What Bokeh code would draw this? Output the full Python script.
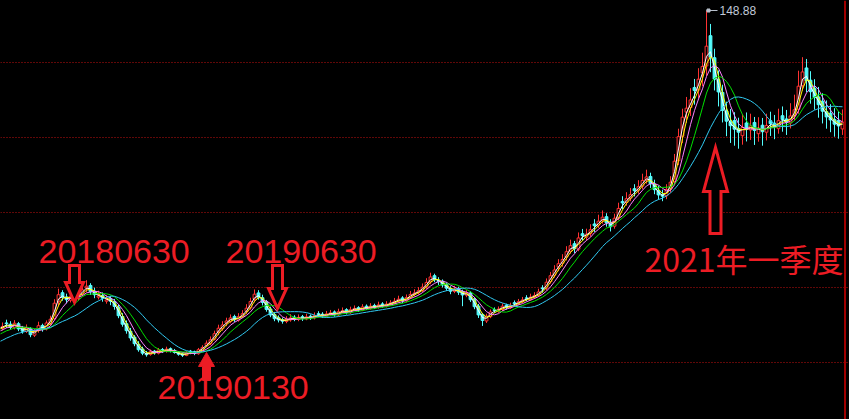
import numpy as np
import pandas as pd
from bokeh.plotting import figure
from bokeh.models import ColumnDataSource, Range1d, FixedTicker, Span
from bokeh.core.properties import value
from bokeh.embed import file_html
from bokeh.resources import INLINE

# ---------------- data ----------------
pre_close = [9.8, 10.5, 11.2, 11.9, 12.8, 13.4, 14.6, 15.3, 16.1, 17.2, 17.9, 18.8, 19.6, 20.4, 21.3, 21.9]

opens = [
    21.8, 23.9, 23.4, 22.0, 23.6, 21.9, 20.5, 21.6, 19.0, 21.2,
    22.9, 21.5, 23.7, 25.6, 32.4, 36.0, 34.3, 33.0, 35.4, 33.7,
    35.5, 37.9, 38.9, 36.6, 34.2, 34.9, 32.6, 33.6, 32.4, 30.2,
    26.5, 23.6, 20.6, 18.2, 15.4, 13.5, 11.6, 11.3, 12.6, 11.8,
    13.3, 12.5, 13.6, 12.9, 12.0, 11.5, 10.9, 12.6, 12.4, 11.6,
    13.0, 14.9, 15.6, 17.4, 20.3, 21.6, 23.9, 24.5, 26.5, 25.0,
    26.6, 28.5, 29.9, 33.4, 35.9, 34.0, 32.3, 29.5, 27.3, 26.0,
    25.2, 24.5, 25.1, 26.2, 25.3, 26.4, 25.5, 26.6, 25.9, 27.6,
    27.4, 26.6, 27.6, 28.3, 27.1, 28.5, 29.2, 28.0, 29.3, 30.0,
    29.0, 30.6, 29.7, 30.9, 30.1, 31.5, 30.6, 31.5, 32.0, 32.7,
    33.9, 32.7, 34.2, 35.4, 36.0, 36.9, 38.3, 40.3, 42.8, 41.0,
    40.6, 39.3, 37.6, 36.5, 37.6, 36.4, 35.0, 35.9, 33.4, 30.6,
    27.3, 24.7, 26.4, 29.2, 28.6, 29.3, 31.0, 30.0, 32.0, 31.7,
    32.5, 33.9, 33.2, 34.3, 35.0, 37.9, 37.8, 40.4, 43.0, 46.3,
    47.8, 50.3, 52.6, 55.6, 53.4, 59.6, 58.2, 59.6, 63.5, 63.0,
    64.8, 66.4, 63.7, 62.6, 66.0, 72.5, 72.1, 73.8, 77.6, 77.0,
    78.6, 81.1, 82.5, 79.4, 77.0, 75.3, 74.8, 77.5, 80.4, 88.8,
    98.6, 108.2, 110.0, 118.1, 117.1, 124.0, 126.7, 138.8, 130.0, 121.2,
    116.1, 108.7, 104.4, 104.9, 101.6, 98.8, 103.9, 101.1, 104.1, 99.6,
    103.0, 100.2, 104.8, 103.8, 101.6, 106.8, 105.5, 103.9, 106.9, 109.4,
    118.8, 125.9, 121.0, 117.8, 114.3, 112.6, 108.4, 107.8, 105.3, 104.9, 101.5,
]
highs = [
    24.1, 25.2, 24.6, 25.0, 24.3, 22.7, 23.3, 22.2, 21.6, 24.4,
    23.6, 24.9, 26.8, 33.4, 37.6, 37.0, 35.6, 36.3, 36.0, 37.0,
    39.2, 41.0, 39.8, 38.0, 36.8, 36.1, 35.0, 34.6, 33.5, 31.2,
    27.8, 24.9, 21.9, 19.0, 16.6, 14.4, 12.7, 13.3, 13.1, 13.9,
    13.9, 14.4, 14.1, 13.5, 12.6, 12.1, 12.6, 13.1, 12.8, 13.9,
    15.0, 16.9, 18.5, 20.8, 23.2, 24.6, 26.0, 27.3, 27.2, 27.8,
    29.0, 31.4, 34.0, 37.3, 37.0, 35.2, 33.1, 30.4, 28.3, 26.9,
    26.0, 26.6, 27.4, 27.0, 27.3, 27.1, 27.6, 27.3, 28.1, 28.6,
    28.2, 28.7, 29.1, 28.9, 29.6, 30.1, 29.8, 30.4, 30.9, 30.6,
    31.4, 31.3, 31.8, 31.6, 32.4, 32.2, 32.6, 33.0, 33.9, 34.8,
    34.6, 35.3, 36.7, 37.4, 38.2, 39.7, 41.8, 44.0, 43.6, 42.2,
    41.3, 40.1, 38.6, 38.8, 38.4, 37.2, 37.0, 36.6, 34.3, 31.5,
    27.9, 27.6, 29.3, 30.1, 30.5, 31.7, 31.6, 32.0, 32.9, 33.5,
    34.3, 35.0, 35.6, 36.2, 37.6, 39.0, 41.7, 44.3, 47.0, 49.4,
    51.4, 54.6, 57.2, 56.7, 60.1, 61.5, 61.6, 63.4, 65.4, 67.2,
    68.9, 67.8, 65.4, 67.6, 72.0, 74.6, 76.2, 77.9, 79.4, 81.0,
    83.6, 85.2, 84.0, 81.2, 78.8, 77.2, 79.4, 82.6, 91.5, 101.6,
    109.6, 114.3, 117.8, 121.5, 125.8, 132.0, 148.88, 143.5, 133.6, 124.9,
    119.2, 112.4, 109.5, 108.2, 106.0, 107.4, 108.1, 107.6, 106.3, 106.2,
    105.9, 107.6, 108.4, 107.1, 109.6, 110.5, 109.1, 111.8, 115.2, 124.8,
    130.2, 129.5, 124.6, 121.4, 118.3, 115.8, 112.9, 111.4, 109.8, 108.6, 109.3,
]
lows = [
    20.9, 21.9, 21.2, 21.3, 20.6, 19.6, 19.9, 18.2, 18.3, 20.0,
    20.4, 20.9, 22.8, 25.0, 30.6, 32.8, 31.7, 32.1, 32.6, 32.8,
    34.6, 36.2, 35.1, 33.8, 33.3, 32.4, 31.6, 31.0, 29.2, 25.8,
    22.4, 19.6, 16.8, 14.6, 12.4, 11.0, 10.4, 10.8, 11.2, 11.3,
    11.9, 12.0, 12.1, 11.6, 10.8, 10.3, 10.6, 11.4, 11.0, 11.2,
    12.6, 14.3, 15.0, 16.9, 19.0, 20.8, 22.6, 23.8, 24.3, 24.4,
    25.9, 27.5, 29.2, 32.1, 33.2, 30.9, 28.4, 26.2, 24.6, 24.1,
    23.6, 23.8, 24.4, 24.6, 24.6, 24.7, 25.0, 25.1, 25.3, 26.2,
    25.9, 26.1, 26.8, 26.4, 26.6, 27.8, 27.3, 27.5, 28.6, 28.3,
    28.6, 29.1, 29.2, 29.5, 29.6, 30.0, 30.1, 30.9, 31.3, 32.0,
    31.8, 32.1, 33.5, 34.5, 35.2, 36.2, 37.5, 39.4, 40.2, 39.1,
    38.1, 36.7, 35.4, 35.8, 35.1, 30.6, 34.2, 32.3, 29.4, 25.9,
    22.7, 23.9, 25.8, 27.9, 27.9, 28.6, 29.2, 29.5, 30.6, 31.0,
    31.8, 32.6, 32.8, 33.6, 34.3, 36.0, 37.0, 39.6, 42.0, 44.6,
    46.4, 48.9, 51.6, 51.8, 52.6, 56.8, 56.9, 58.4, 60.3, 61.9,
    63.6, 62.4, 60.5, 61.6, 65.0, 69.4, 70.8, 72.6, 74.5, 75.6,
    77.4, 79.6, 77.9, 75.4, 73.2, 72.6, 73.4, 76.0, 79.2, 87.0,
    95.8, 103.9, 106.7, 111.2, 113.9, 118.6, 122.8, 124.2, 116.9, 110.5,
    104.1, 98.6, 95.9, 94.8, 93.6, 95.2, 96.5, 97.1, 95.1, 96.4,
    94.8, 96.9, 98.7, 97.4, 99.6, 100.4, 99.1, 101.7, 104.8, 107.6,
    116.9, 116.2, 111.6, 109.2, 106.0, 103.7, 101.6, 100.2, 98.4, 97.6, 99.1,
]
closes = [
    22.5, 23.6, 22.1, 23.8, 21.5, 20.6, 21.9, 19.2, 20.4, 22.8,
    21.3, 23.9, 25.4, 31.8, 35.2, 34.1, 33.2, 34.6, 33.9, 35.4,
    37.1, 38.6, 36.4, 35.2, 34.7, 33.8, 33.1, 32.6, 30.5, 26.8,
    23.4, 20.8, 17.9, 15.6, 13.2, 11.8, 11.2, 12.4, 11.9, 13.1,
    12.6, 13.4, 12.8, 12.1, 11.4, 11.0, 11.9, 12.3, 11.7, 13.2,
    14.1, 15.8, 17.2, 19.6, 21.8, 23.1, 24.7, 25.9, 25.2, 26.4,
    27.6, 29.8, 32.5, 35.4, 34.2, 32.1, 29.3, 27.1, 25.6, 25.1,
    24.6, 25.3, 25.9, 25.4, 26.1, 25.6, 26.3, 26.0, 26.8, 27.3,
    26.7, 27.5, 27.9, 27.2, 28.4, 28.8, 28.1, 29.2, 29.7, 29.1,
    30.3, 29.8, 30.6, 30.2, 31.1, 30.7, 31.4, 31.9, 32.6, 33.4,
    32.8, 34.1, 35.3, 35.9, 36.8, 38.2, 40.1, 42.3, 41.2, 40.4,
    39.1, 37.8, 36.6, 37.4, 36.2, 35.1, 35.8, 33.2, 30.4, 27.1,
    24.9, 26.6, 28.3, 28.9, 29.4, 30.6, 30.1, 30.9, 31.6, 32.4,
    33.1, 33.8, 34.2, 34.9, 36.3, 37.6, 40.2, 42.8, 45.1, 47.6,
    49.3, 52.4, 54.8, 53.6, 57.9, 58.8, 59.4, 61.2, 62.8, 64.6,
    66.2, 63.9, 62.4, 65.8, 69.7, 71.9, 73.6, 75.2, 76.8, 78.4,
    80.9, 82.3, 79.6, 77.2, 75.1, 74.6, 77.3, 80.2, 88.6, 98.4,
    106.2, 109.8, 113.1, 116.9, 121.4, 126.5, 134.6, 130.2, 121.4, 116.3,
    108.9, 104.6, 102.8, 101.4, 100.2, 102.1, 101.3, 102.7, 100.9, 101.8,
    100.4, 102.9, 103.6, 102.2, 104.8, 105.3, 104.1, 106.7, 109.2, 118.6,
    124.3, 120.8, 116.4, 114.1, 111.2, 108.6, 106.3, 105.1, 103.4, 102.7, 104.2,
]

ma_windows = [2, 3, 5, 8, 15]
ma_colors = ["#ffffff", "#ffff00", "#ff80ff", "#00e000", "#30c8f0"]

grid_prices = [8, 38, 68, 98, 128]

# annotations: (text, font, size, left candle-x, baseline price)
notes = [
    ("20180630", "Liberation Sans", "34px", 9.0, 52.5),
    ("20190630", "Liberation Sans", "34px", 55.75, 52.5),
    ("20190130", "Liberation Sans", "34px", 38.75, -1.9),
    ("2021年一季度", "Noto Sans CJK SC", "32px", 160.5, 49.7),
]
# arrows: (centre candle-x, tip price, direction, length px, head len px, head half-w px, shaft half-w px, filled)
arrows = [
    (18.0, 32.1, "down", 37, 20, 9, 5, False),
    (68.75, 29.7, "down", 43, 20, 9, 5, False),
    (51.0, 12.1, "up", 28, 14, 8, 4, True),
    (178.25, 94.1, "up", 86, 44, 12, 5.5, False),
]

# ---------------- layout ----------------
W, H = 849, 419
PX_X = 0.25   # candle units per pixel
PX_Y = 0.4    # price units per pixel
Y_TOP = 152.88
RED = "#ff3232"
CYAN = "#54fcfc"
TXT_RED = "#ec1c24"

p = figure(width=W, height=H, output_backend="svg", toolbar_location=None,
           x_range=Range1d(-0.5, -0.5 + W * PX_X),
           y_range=Range1d(Y_TOP - H * PX_Y, Y_TOP),
           min_border=0, min_border_left=0, min_border_right=0,
           min_border_top=0, min_border_bottom=0)
p.background_fill_color = "#000000"
p.border_fill_color = "#000000"
p.outline_line_color = None
p.xaxis.visible = False
p.yaxis.visible = False
p.xgrid.visible = False
p.ygrid.ticker = FixedTicker(ticks=grid_prices)
p.ygrid.grid_line_color = "#c01010"
p.ygrid.grid_line_dash = "1 2"
p.ygrid.grid_line_width = 1

# right axis line
p.add_layout(Span(location=-0.5 + 844.5 * PX_X, dimension="height",
                  line_color="#a00000", line_width=2))

# candles
o = np.array(opens); h = np.array(highs); l = np.array(lows); c = np.array(closes)
N = len(c)
idx = np.arange(N)
up = c >= o
src = ColumnDataSource(dict(
    x=idx, top=np.maximum(o, c), bottom=np.minimum(o, c), high=h, low=l,
    color=np.where(up, RED, CYAN), fill=np.where(up, "#000000", CYAN)))
p.segment(x0="x", y0="low", x1="x", y1="high", line_color="color", line_width=1, source=src)
p.vbar(x="x", top="top", bottom="bottom", width=0.7, fill_color="fill",
       line_color="color", line_width=1, source=src)

# moving averages
all_close = pd.Series(pre_close + closes)
xs = np.arange(-len(pre_close), N)
for w, col in zip(ma_windows, ma_colors):
    ma = all_close.rolling(w, min_periods=1).mean().values
    p.line(xs, ma, line_color=col, line_width=1)

# peak marker
imax = int(np.argmax(h))
hmax = h[imax]
p.segment(x0=[imax], y0=[hmax], x1=[imax + 11 * PX_X], y1=[hmax],
          line_color="#b8c0cc", line_width=1)
p.scatter(x=[imax + 2 * PX_X], y=[hmax], size=3, marker="square",
          color="#b8c0cc")
p.text(x=[imax + 13 * PX_X], y=[hmax], text=[f"{hmax:.2f}"],
       text_color="#c0c8d8", text_font=value("Liberation Sans"),
       text_font_size="12px", text_baseline="middle", text_align="left")

# arrows
for xc, tip, d, L, HL, HW, SW, filled in arrows:
    s = 1 if d == "down" else -1
    pts = [(0, 0), (HW, HL), (SW, HL), (SW, L), (-SW, L), (-SW, HL), (-HW, HL)]
    px = [xc + dx * PX_X for dx, dy in pts]
    py = [tip + s * dy * PX_Y for dx, dy in pts]
    p.patch(px, py, fill_color=TXT_RED if filled else "#000000",
            line_color=TXT_RED, line_width=3 if not filled else 1,
            line_join="miter")

# texts
for t, font, size, tx, ty in notes:
    p.text(x=[tx], y=[ty], text=[t], text_color=TXT_RED,
           text_font=value(font), text_font_size=size,
           text_baseline="alphabetic", text_align="left")

html = file_html(p, INLINE)
style = "<style>html,body{margin:0;padding:0;background:#000;overflow:hidden}</style>"
html = html.replace("</head>", style + "</head>", 1)
open("out.html", "w").write(html)
